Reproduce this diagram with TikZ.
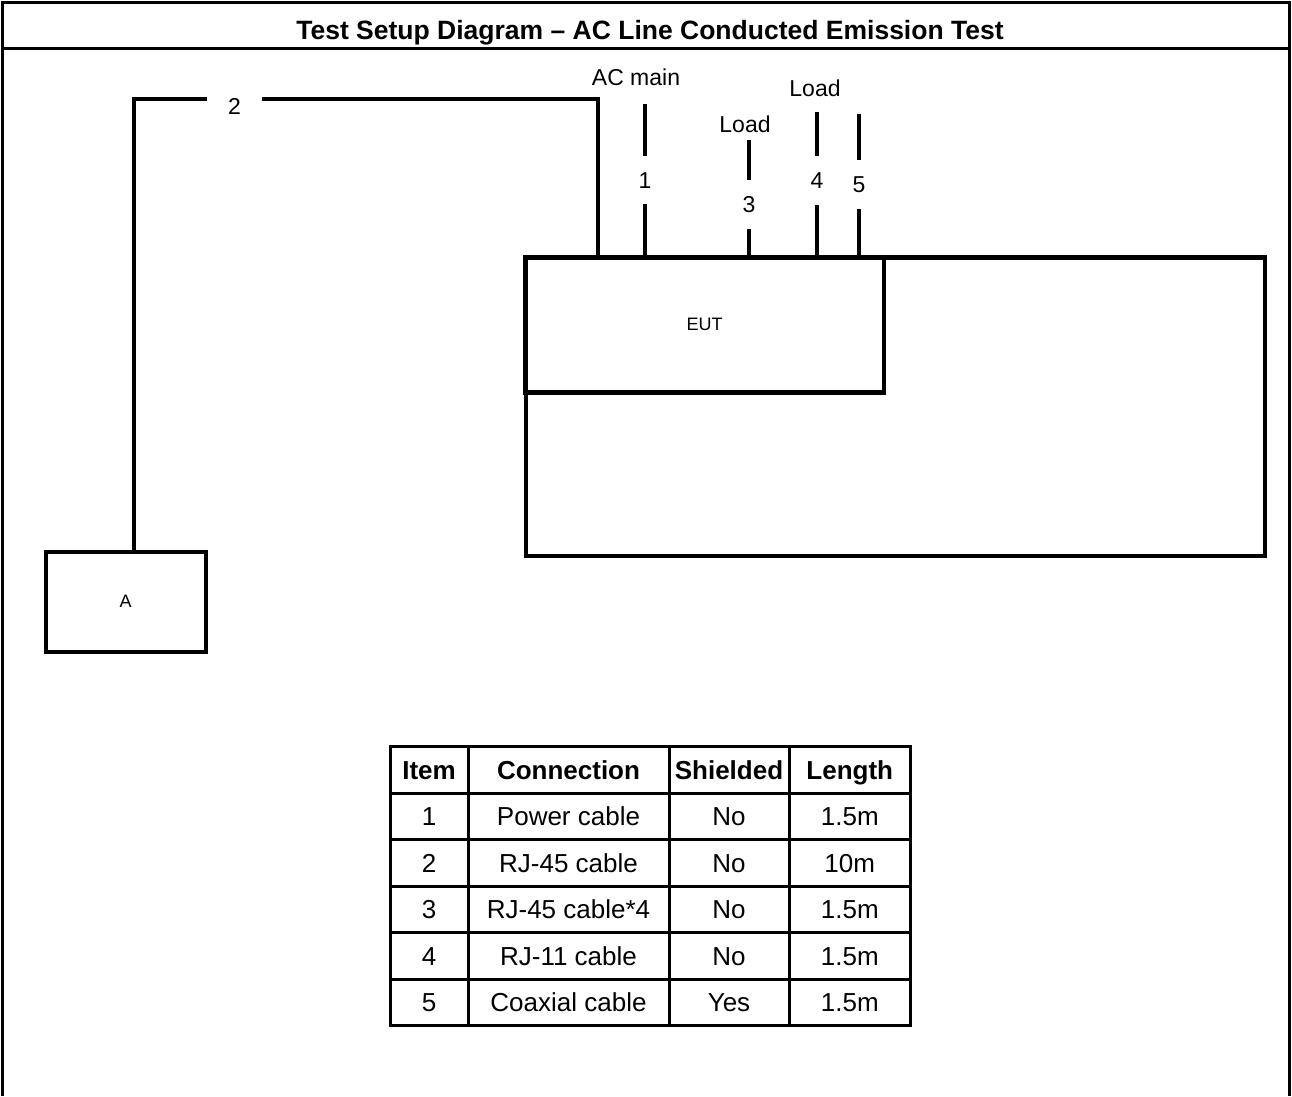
\documentclass[tikz,border=0pt]{standalone}
\usepackage{fontspec}
\setmainfont{Liberation Sans}
\usepackage{tikz}
\usetikzlibrary{positioning, calc}
\tikzset{
  frame/.style={line width=3.5pt},
  cable/.style={line width=4.5pt},
  unit/.style={
    draw, line width=4.5pt, inner sep=0pt, outer sep=0pt,
    font=\fontsize{18}{21}\selectfont
  },
  num/.style={
    inner xsep=2pt, inner ysep=16pt, outer sep=0pt,
    text height=16.5pt, text depth=0pt,
    font=\fontsize{23}{27}\selectfont
  },
  tag/.style={inner sep=0pt, text height=16.5pt, text depth=0pt,
    font=\fontsize{23}{27}\selectfont},
  cell/.style={
    draw, line width=3pt, inner sep=0pt, outer sep=0pt,
    minimum height=46.5pt, text height=18.6pt, text depth=0pt,
    font=\fontsize{26}{30}\selectfont
  }
}

\begin{document}
\begin{tikzpicture}[x=1pt, y=-1pt]
  \useasboundingbox (0,0) rectangle (1292,1096);

  % outer frame and title
  \draw[frame] (2.5,1096) -- (2.5,2.5) -- (1289.5,2.5) -- (1289.5,1096);
  \draw[line width=3pt] (2.5,48) -- (1289.5,48);
  \node[inner sep=0pt, text height=19pt, text depth=0pt,
    font=\bfseries\fontsize{26.5}{30}\selectfont] (title) at (650,30)
    {Test Setup Diagram – AC Line Conducted Emission Test};

  % units
  \node[unit, minimum width=739pt, minimum height=298.5pt] (bench) at (895.5,406.75) {};
  \node[unit, minimum width=359pt, minimum height=135pt] (eut) at (704.5,324.75) {EUT};
  \node[unit, minimum width=160pt, minimum height=100pt] (boxA) at (125.75,601.75) {A};

  % cable 2
  \node[num, inner xsep=21pt] (n2) at (234.5,106) {2};
  \coordinate (bend2a) at (134,99);
  \coordinate (bend2b) at (598,99);
  \draw[cable] (134,0 |- boxA.north) -- (bend2a) -- (bend2a -| n2.west);
  \draw[cable] (bend2a -| n2.east) -- (bend2b) -- (bend2b |- eut.north);

  % cables 1, 3, 4, 5
  \foreach \nm/\x/\top/\y in {1/645/104/180, 3/749/140/204.5, 4/817/112/180.5, 5/859/114/184.5}{
    \node[num] (n\nm) at (\x,\y) {\nm};
    \coordinate (t\nm) at (\x,\top);
    \draw[cable] (t\nm) -- (n\nm);
    \draw[cable] (n\nm) -- (n\nm |- eut.north);
  }

  \node[tag] (acmain) at (636,77) {AC main};
  \node[tag] (load3) at (745,124) {Load};
  \node[tag] (load4) at (815,88) {Load};

  % cable table
  \foreach \itm/\con/\shd/\len [count=\r from 0] in {
      Item/Connection/Shielded/Length,
      1/Power cable/No/1.5m,
      2/RJ-45 cable/No/10m,
      3/RJ-45 cable*4/No/1.5m,
      4/RJ-11 cable/No/1.5m,
      5/Coaxial cable/Yes/1.5m}{
    \pgfmathsetmacro{\yc}{769.75+46.5*\r}
    \node[cell, minimum width=78pt] (item\r) at (429,\yc) {\ifnum\r=0\bfseries\fi\itm};
    \node[cell, minimum width=201pt] (conn\r) at (568.5,\yc) {\ifnum\r=0\bfseries\fi\con};
    \node[cell, minimum width=120pt] (shld\r) at (729,\yc) {\ifnum\r=0\bfseries\fi\shd};
    \node[cell, minimum width=121.5pt] (len\r) at (849.75,\yc) {\ifnum\r=0\bfseries\fi\len};
  }
\end{tikzpicture}
\end{document}
